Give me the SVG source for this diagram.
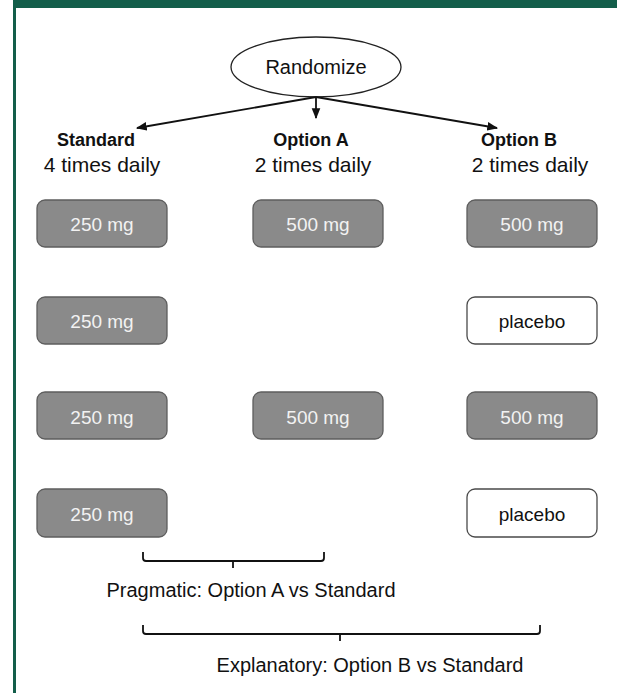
<svg xmlns="http://www.w3.org/2000/svg" width="617" height="693" viewBox="0 0 617 693">
<defs>
<style>
.t{font-family:"Liberation Sans",Arial,sans-serif;font-size:20px;fill:#111;text-anchor:middle;dominant-baseline:central}
.b{font-weight:bold;font-size:18px}
.d{font-size:21px}
.pill{fill:#8a8a8a;stroke:#5e5e5e;stroke-width:1.3}
.plc{fill:#fff;stroke:#4a4a4a;stroke-width:1.3}
.lt{fill:#f2f2f2;font-size:19px}
.pl{font-size:19px}
.ln{fill:none;stroke:#111;stroke-width:1.8}
</style>
<marker id="ah" viewBox="0 0 10 10" refX="9" refY="5" markerWidth="6" markerHeight="6" orient="auto"><path d="M0,1 L10,5 L0,9 z" fill="#111"/></marker>
</defs>
<rect x="0" y="0" width="617" height="693" fill="#fff"/>
<rect x="13" y="0" width="604" height="8" fill="#135e4a"/>
<rect x="13" y="0" width="3" height="693" fill="#135e4a"/>
<g id="randomize"><ellipse cx="316" cy="67" rx="85" ry="30" fill="#fff" stroke="#222" stroke-width="1.3"/><text class="t" x="316" y="67">Randomize</text></g>
<g id="connectors">
<line class="ln" x1="316" y1="97" x2="137" y2="128" marker-end="url(#ah)"/>
<line class="ln" x1="316" y1="97" x2="316" y2="118" marker-end="url(#ah)"/>
<line class="ln" x1="316" y1="97" x2="497" y2="128" marker-end="url(#ah)"/>
<path class="ln" d="M143,552 V558 Q143,561 146,561 H321 Q324,561 324,558 V552 M233,561 V568"/>
<path class="ln" d="M143,625 V631 Q143,634 146,634 H537 Q540,634 540,631 V625 M340,634 V641"/>
</g>
<g id="standard"><text class="t b" x="96" y="140">Standard</text><text class="t d" x="102" y="164">4 times daily</text></g>
<g id="optionA"><text class="t b" x="311" y="140">Option A</text><text class="t d" x="313" y="164">2 times daily</text></g>
<g id="optionB"><text class="t b" x="519" y="140">Option B</text><text class="t d" x="530" y="164">2 times daily</text></g>
<g id="s1"><rect class="pill" x="37" y="200" width="130" height="47" rx="8"/><text class="t lt" x="102" y="224">250 mg</text></g>
<g id="s2"><rect class="pill" x="37" y="297" width="130" height="47" rx="8"/><text class="t lt" x="102" y="321">250 mg</text></g>
<g id="s3"><rect class="pill" x="37" y="392" width="130" height="47" rx="8"/><text class="t lt" x="102" y="417">250 mg</text></g>
<g id="s4"><rect class="pill" x="37" y="489" width="130" height="48" rx="8"/><text class="t lt" x="102" y="514">250 mg</text></g>
<g id="a1"><rect class="pill" x="253" y="200" width="130" height="47" rx="8"/><text class="t lt" x="318" y="224">500 mg</text></g>
<g id="a3"><rect class="pill" x="253" y="392" width="130" height="47" rx="8"/><text class="t lt" x="318" y="417">500 mg</text></g>
<g id="b1"><rect class="pill" x="467" y="200" width="130" height="47" rx="8"/><text class="t lt" x="532" y="224">500 mg</text></g>
<g id="b2"><rect class="plc" x="467" y="297" width="130" height="47" rx="8"/><text class="t pl" x="532" y="321">placebo</text></g>
<g id="b3"><rect class="pill" x="467" y="392" width="130" height="47" rx="8"/><text class="t lt" x="532" y="417">500 mg</text></g>
<g id="b4"><rect class="plc" x="467" y="489" width="130" height="48" rx="8"/><text class="t pl" x="532" y="514">placebo</text></g>
<g id="pragmatic"><text class="t" x="251" y="590">Pragmatic: Option A vs Standard</text></g>
<g id="explanatory"><text class="t" x="370" y="665">Explanatory: Option B vs Standard</text></g>
</svg>
